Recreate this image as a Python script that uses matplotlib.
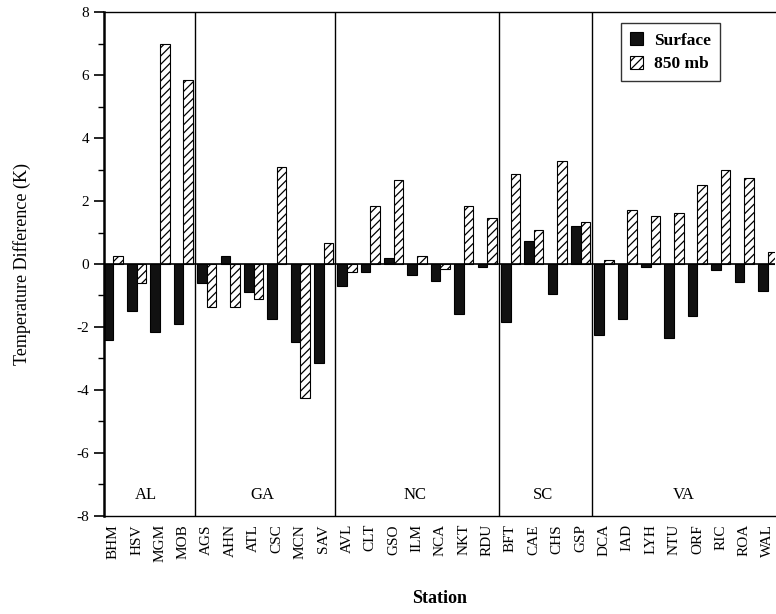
import numpy as np
import matplotlib
matplotlib.use("Agg")
from matplotlib import pyplot as plt
from matplotlib.ticker import MultipleLocator

plt.rcParams['font.family'] = ['Liberation Serif', 'DejaVu Serif']
plt.rcParams['hatch.linewidth'] = 0.9
plt.rcParams['axes.unicode_minus'] = False

# station codes, grouped by state
stations = ['BHM', 'HSV', 'MGM', 'MOB',
            'AGS', 'AHN', 'ATL', 'CSC', 'MCN', 'SAV',
            'AVL', 'CLT', 'GSO', 'ILM', 'NCA', 'NKT', 'RDU',
            'BFT', 'CAE', 'CHS', 'GSP',
            'DCA', 'IAD', 'LYH', 'NTU', 'ORF', 'RIC', 'ROA', 'WAL']
states = ['AL', 'GA', 'NC', 'SC', 'VA']
state_sizes = [4, 6, 7, 4, 8]

surface = [-2.4, -1.5, -2.15, -1.9,
           -0.6, 0.27, -0.88, -1.75, -2.48, -3.15,
           -0.7, -0.25, 0.18, -0.35, -0.55, -1.58, -0.1,
           -1.85, 0.72, -0.95, 1.2,
           -2.25, -1.75, -0.1, -2.35, -1.65, -0.18, -0.58, -0.85]
mb850 = [0.25, -0.6, 7.0, 5.85,
         -1.38, -1.37, -1.1, 3.07, -4.27, 0.68,
         -0.24, 1.85, 2.68, 0.27, -0.17, 1.85, 1.47,
         2.86, 1.08, 3.28, 1.35,
         0.14, 1.72, 1.52, 1.62, 2.5, 3.0, 2.72, 0.37]

x = np.arange(len(stations))
w = 0.41

fig = plt.figure(figsize=(7.76, 6.14), dpi=100)
ax = fig.add_axes([0.134, 0.16, 0.865, 0.82])

ax.bar(x - w/2, surface, w, color='#111111', edgecolor='black', linewidth=0.8, label='Surface')
ax.bar(x + w/2, mb850, w, color='white', edgecolor='black', linewidth=0.8, hatch='////', label='850 mb')
ax.axhline(0, color='black', lw=1.2)

### state boundaries and labels ###
edges = np.cumsum([0] + state_sizes)
for e in edges[1:-1]:
    ax.axvline(e - 0.5, color='black', lw=1.0)
for s, a, b in zip(states, edges[:-1], edges[1:]):
    ax.text((a + b - 1) / 2 - 0.1, -7.35, s, ha='center', va='center', fontsize=12)

ax.set_xlim(-0.4, 28.33)
ax.set_ylim(-8, 8)
ax.set_xticks(x)
ax.set_xticklabels(stations, rotation=90, fontsize=11)
ax.tick_params(axis='x', length=0, pad=6)
ax.yaxis.set_major_locator(MultipleLocator(2))
ax.yaxis.set_minor_locator(MultipleLocator(1))
ax.tick_params(axis='y', which='major', length=7, width=1.2, labelsize=11, direction='out')
ax.tick_params(axis='y', which='minor', length=4, width=1.0, direction='out')
ax.spines['left'].set_linewidth(1.8)
ax.spines['right'].set_visible(False)
for s in ['top', 'bottom']:
    ax.spines[s].set_linewidth(1.0)

ax.set_ylabel('Temperature Difference (K)', fontsize=13, labelpad=33)
ax.set_xlabel('Station', fontsize=13, fontweight='bold', labelpad=20)

leg = ax.legend(loc='upper right', bbox_to_anchor=(0.93, 0.995), frameon=True, fancybox=False,
                edgecolor='black', fontsize=12.5, handlelength=0.8, handleheight=0.8,
                borderpad=0.5, labelspacing=0.4, handletextpad=0.6)
leg.get_frame().set_linewidth(1.0)
for t in leg.get_texts():
    t.set_fontweight('bold')

fig.savefig('out.png', dpi=100)
